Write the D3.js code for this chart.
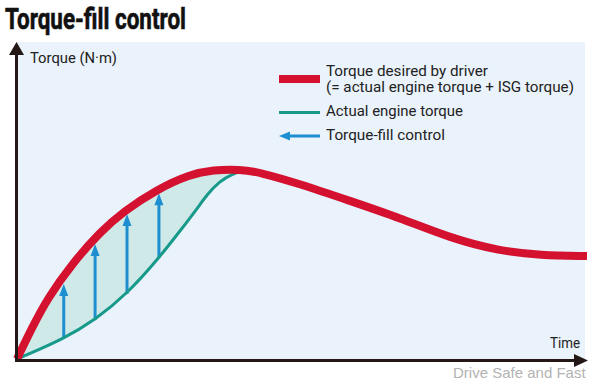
<!DOCTYPE html>
<html>
<head>
<meta charset="utf-8">
<script src="https://cdn.jsdelivr.net/npm/d3@7"></script>
<style>
  html, body { margin: 0; padding: 0; background: #ffffff; }
  svg { display: block; }
</style>
</head>
<body>
<svg id="chart" width="600" height="384"></svg>
<script>
// ---- data (time and torque in relative units, 0..100) ----
const desiredTime   = [0, 2.6, 5.4, 9.6, 14.6, 18.6, 24.6, 30.4, 34.4, 39.1, 42.6, 49.6, 58.4, 67.2, 76.0, 84.7, 91.8, 100];
const desiredTorque = [0, 10.0, 19.7, 30.6, 41.0, 47.5, 54.8, 59.6, 61.0, 61.2, 60.2, 56.5, 51.0, 45.5, 39.0, 34.8, 33.5, 33.2];
const actualTime    = [0, 8.2, 13.7, 19.3, 24.9, 28.6, 31.6, 33.3, 35.6, 37.7, 39.5];
const actualTorque  = [0, 6.5, 12.6, 21.0, 32.6, 41.3, 48.5, 53.0, 57.4, 59.6, 60.6];
const fillTime      = [8.2, 13.7, 19.3, 24.9];
const fillFrom      = [6.5, 12.6, 21.0, 32.6];
const fillTo        = [24.2, 37.1, 46.8, 53.5];
const titleText     = "Torque-fill control";
const yAxisLabel    = "Torque (N·m)";
const xAxisLabel    = "Time";
const legendLabels  = ["Torque desired by driver", "(= actual engine torque + ISG torque)", "Actual engine torque", "Torque-fill control"];
const watermark     = "Drive Safe and Fast";

// ---- styles ----
const RED = "#d4122f", TEAL = "#17998b", BLUE = "#1d8fd0", FILL = "#cfe9e8", BG = "#eaf2fb", AXIS = "#231815";
const FONT = "'Liberation Sans Narrow', 'Roboto', 'Liberation Sans', sans-serif";

const svg = d3.select("#chart");
const x = d3.scaleLinear().domain([0, 100]).range([17, 587]);
const y = d3.scaleLinear().domain([0, 100]).range([359, 49]);

const desired = desiredTime.map((t, i) => [t, desiredTorque[i]]);
const actual  = actualTime.map((t, i) => [t, actualTorque[i]]);

// panel background
svg.append("rect").attr("x", 16).attr("y", 42).attr("width", 569).attr("height", 319).attr("fill", BG);

// title
svg.append("text").attr("x", 5).attr("y", 29)
  .attr("font-family", FONT).attr("font-weight", "bold").attr("font-size", 29)
  .attr("fill", "#111").attr("stroke", "#111").attr("stroke-width", 0.6)
  .attr("textLength", 181).attr("lengthAdjust", "spacingAndGlyphs")
  .text(titleText);

const curve = d3.curveBasis;
const defs = svg.append("defs");

// fill between desired and actual
const underRed = d3.area().x(d => x(d[0])).y0(y(0)).y1(d => y(d[1])).curve(curve);
defs.append("clipPath").attr("id", "underRed").append("path").attr("d", underRed(desired));
const aboveTeal = d3.area().x(d => x(d[0])).y0(d => y(d[1])).y1(y(100)).curve(curve);
svg.append("path").attr("d", aboveTeal(actual)).attr("fill", FILL).attr("clip-path", "url(#underRed)");

// torque-fill arrows
const headLen = 12, headHalf = 4.5;
fillTime.forEach((t, i) => {
  const px = x(t), y0 = y(fillFrom[i]), y1 = y(fillTo[i]);
  svg.append("line").attr("x1", px).attr("x2", px).attr("y1", y0).attr("y2", y1 + headLen - 1)
    .attr("stroke", BLUE).attr("stroke-width", 3);
  svg.append("path").attr("d", `M${px},${y1} L${px - headHalf},${y1 + headLen} L${px + headHalf},${y1 + headLen} Z`)
    .attr("fill", BLUE);
});

// actual engine torque line
const line = d3.line().x(d => x(d[0])).y(d => y(d[1])).curve(curve);
svg.append("path").attr("d", line(actual)).attr("fill", "none").attr("stroke", TEAL).attr("stroke-width", 3);

// desired torque line
svg.append("path").attr("d", line(desired)).attr("fill", "none").attr("stroke", RED).attr("stroke-width", 8)
  .attr("stroke-linecap", "butt");

// axes
const xAxisG = svg.append("g").attr("transform", `translate(0,${y(0) + 1.5})`)
  .call(d3.axisBottom(x).tickValues([]).tickSizeOuter(0));
xAxisG.select(".domain").attr("stroke", AXIS).attr("stroke-width", 3)
  .attr("d", `M${x(0) - 2},0H${x(100) - 10}`);
svg.append("path").attr("d", `M${x(100) + 1},${y(0) + 1.5} l-14,-6.5 v13 Z`).attr("fill", AXIS);

const yAxisG = svg.append("g").attr("transform", `translate(${x(0) - 0.5},0)`)
  .call(d3.axisLeft(y).tickValues([]).tickSizeOuter(0));
yAxisG.select(".domain").attr("stroke", AXIS).attr("stroke-width", 3)
  .attr("d", `M0,${y(0) + 3}V${y(100)}`);
svg.append("path").attr("d", `M${x(0) - 0.5},${y(100) - 7} l-7.5,13 h15 Z`).attr("fill", AXIS);

// axis labels
svg.append("text").attr("x", 30).attr("y", 63).attr("font-family", FONT).attr("font-size", 15)
  .attr("fill", "#222").attr("textLength", 87).attr("lengthAdjust", "spacingAndGlyphs").text(yAxisLabel);
svg.append("text").attr("x", 550).attr("y", 348).attr("font-family", FONT).attr("font-size", 15)
  .attr("fill", "#222").attr("textLength", 30).attr("lengthAdjust", "spacingAndGlyphs").text(xAxisLabel);

// legend
const lx0 = 279, lx1 = 320, tx = 326;
svg.append("line").attr("x1", lx0).attr("x2", lx1).attr("y1", 79).attr("y2", 79).attr("stroke", RED).attr("stroke-width", 8);
svg.append("line").attr("x1", lx0).attr("x2", lx1).attr("y1", 112.5).attr("y2", 112.5).attr("stroke", TEAL).attr("stroke-width", 3);
svg.append("line").attr("x1", lx0 + 10).attr("x2", lx1).attr("y1", 136).attr("y2", 136).attr("stroke", BLUE).attr("stroke-width", 3);
svg.append("path").attr("d", `M${lx0},136 l11,-4.5 v9 Z`).attr("fill", BLUE);

const legendY = [76, 92, 116, 140];
const legendW = [162, 248, 137, 119];
legendLabels.forEach((t, i) => {
  svg.append("text").attr("x", tx).attr("y", legendY[i]).attr("font-family", FONT).attr("font-size", 14)
    .attr("fill", "#222").attr("textLength", legendW[i]).attr("lengthAdjust", "spacingAndGlyphs").text(t);
});

// watermark
svg.append("text").attr("x", 453).attr("y", 378).attr("font-family", "'Liberation Sans', Arial, sans-serif")
  .attr("font-size", 15).attr("fill", "#b3b3b3").text(watermark);
</script>
</body>
</html>
